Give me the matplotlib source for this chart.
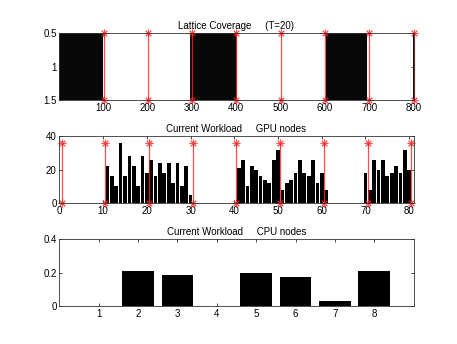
import numpy as np
import matplotlib
matplotlib.use('Agg')
import matplotlib.pyplot as plt

plt.rcParams['font.family'] = ['Liberation Sans', 'DejaVu Sans']
plt.rcParams['font.size'] = 7

# Lattice coverage (T=20): covered runs of lattice sites (1-based, inclusive)
n_sites = 800
covered_runs = [(1, 100), (297, 402), (602, 695), (799, 800)]

# Current workload per GPU node (80 nodes, groups of 10)
gpu_load = [0, 0, 0, 0, 0, 0, 0, 0, 0, 0,
            22, 16, 10, 36, 16, 28, 22, 10, 28, 18,
            26, 16, 24, 18, 24, 12, 24, 10, 22, 5,
            0, 0, 0, 0, 0, 0, 0, 0, 0, 0,
            21, 26, 10, 22, 20, 16, 14, 12, 26, 32,
            8, 12, 14, 18, 26, 18, 16, 26, 12, 18,
            8, 0, 0, 0, 0, 0, 0, 0, 0, 18,
            8, 26, 20, 26, 16, 18, 22, 18, 32, 20]

# Current workload per CPU node
cpu_nodes = [1, 2, 3, 4, 5, 6, 7, 8]
cpu_load = [0, 0.21, 0.185, 0, 0.2, 0.172, 0.028, 0.212]

n_groups = len(cpu_nodes)
sites_per_group = n_sites // n_groups
gpus_per_group = len(gpu_load) // n_groups

coverage = np.zeros(n_sites)
for a, b in covered_runs:
    coverage[a - 1:b] = 1

fig = plt.figure(figsize=(4.57, 3.44), dpi=100)
positions = [[0.13, 0.7093, 0.775, 0.1939],
             [0.13, 0.4096, 0.775, 0.1939],
             [0.13, 0.11, 0.775, 0.1939]]
axes = [fig.add_axes(p) for p in positions]

red = '#ff2020'
star = dict(marker=(8, 2, 0), markersize=5.5, markeredgewidth=0.7,
            color=red, linewidth=0.9, alpha=0.8)


def matlab_style(ax):
    ax.tick_params(direction='in', length=2.5, width=0.5, top=True, right=True,
                   labelsize=7, pad=2)
    for s in ax.spines.values():
        s.set_linewidth(0.6)
        s.set_color('#333333')


# Top: lattice coverage image
ax = axes[0]
ax.imshow(coverage[np.newaxis, :], cmap='gray_r', vmin=0, vmax=1.04,
          aspect='auto', interpolation='nearest',
          extent=(0.5, n_sites + 0.5, 1.5, 0.5))
for k in range(1, n_groups + 1):
    x = k * sites_per_group + 0.5
    ax.plot([x, x], [0.5, 1.5], clip_on=False, **star)
ax.set_xlim(0.5, n_sites + 0.5)
ax.set_ylim(1.5, 0.5)
ax.set_xticks(np.arange(1, n_groups + 1) * sites_per_group)
ax.set_yticks([0.5, 1, 1.5])
ax.set_yticklabels(['0.5', '1', '1.5'])
ax.set_title('Lattice Coverage     (T=20)', fontsize=7, pad=3)
matlab_style(ax)

# Middle: GPU workload
ax = axes[1]
gpu_x = np.arange(1, len(gpu_load) + 1)
ax.bar(gpu_x, gpu_load, width=0.85, color='black', linewidth=0)
top = max(gpu_load)
for k in range(0, n_groups + 1):
    x = k * gpus_per_group + 0.5
    ax.plot([x, x], [0, top], clip_on=False, **star)
ax.set_xlim(0, len(gpu_load) + 1)
ax.set_ylim(0, 40)
ax.set_xticks(np.arange(0, len(gpu_load) + 1, 10))
ax.set_yticks([0, 20, 40])
ax.set_title('Current Workload     GPU nodes', fontsize=7, pad=3)
matlab_style(ax)

# Bottom: CPU workload
ax = axes[2]
ax.bar(cpu_nodes, cpu_load, width=0.8, color='black', linewidth=0)
ax.set_xlim(0, n_groups + 1)
ax.set_ylim(0, 0.4)
ax.set_xticks(cpu_nodes)
ax.set_yticks([0, 0.2, 0.4])
ax.set_yticklabels(['0', '0.2', '0.4'])
ax.set_title('Current Workload     CPU nodes', fontsize=7, pad=3)
matlab_style(ax)

fig.savefig('out.png', dpi=100)
